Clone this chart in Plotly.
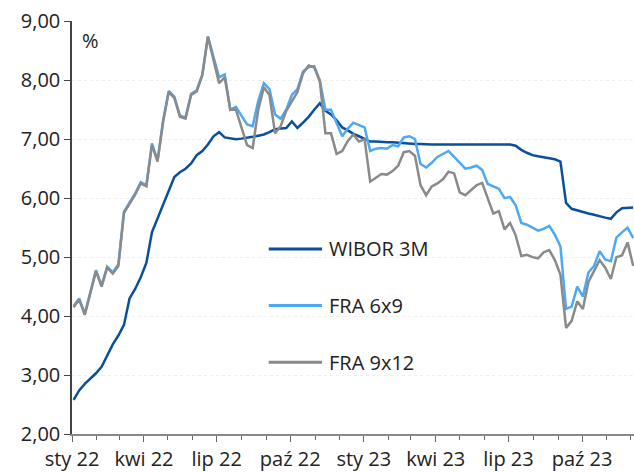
import pandas as pd
import plotly.graph_objects as go

# weekly observations, Mondays from 3 Jan 2022
dates = pd.date_range("2022-01-03", periods=101, freq="7D")

wibor_3m = [
    2.58, 2.74, 2.85, 2.94, 3.03, 3.14, 3.33, 3.52, 3.67, 3.85,
    4.30, 4.46, 4.66, 4.90, 5.42, 5.65, 5.88, 6.14, 6.36, 6.44,
    6.50, 6.59, 6.73, 6.80, 6.91, 7.05, 7.12, 7.03, 7.01, 7.00,
    7.01, 7.02, 7.04, 7.06, 7.08, 7.12, 7.17, 7.18, 7.19, 7.30,
    7.19, 7.28, 7.38, 7.50, 7.61, 7.48, 7.42, 7.32, 7.20, 7.15,
    7.09, 7.05, 7.00, 6.96, 6.96, 6.95, 6.95, 6.95, 6.94, 6.94,
    6.93, 6.92, 6.92, 6.91, 6.91, 6.91, 6.91, 6.91, 6.91, 6.91,
    6.91, 6.91, 6.91, 6.91, 6.91, 6.91, 6.91, 6.91, 6.91, 6.89,
    6.82, 6.77, 6.73, 6.71, 6.69, 6.68, 6.66, 6.62, 5.92, 5.82,
    5.79, 5.76, 5.74, 5.72, 5.69, 5.67, 5.65, 5.76, 5.83, 5.84,
    5.84,
]

fra_6x9 = [
    4.17, 4.30, 4.04, 4.40, 4.78, 4.52, 4.84, 4.74, 4.88, 5.77,
    5.92, 6.08, 6.27, 6.22, 6.93, 6.64, 7.32, 7.82, 7.72, 7.40,
    7.37, 7.77, 7.83, 8.10, 8.74, 8.37, 8.05, 8.10, 7.50, 7.55,
    7.40, 7.25, 7.22, 7.65, 7.95, 7.85, 7.42, 7.35, 7.50, 7.75,
    7.85, 8.15, 8.22, 8.24, 8.00, 7.50, 7.50, 7.28, 7.05, 7.18,
    7.28, 7.24, 7.20, 6.80, 6.84, 6.85, 6.84, 6.90, 6.88, 7.03,
    7.05, 7.00, 6.58, 6.52, 6.60, 6.70, 6.75, 6.80, 6.70, 6.60,
    6.50, 6.52, 6.55, 6.48, 6.24, 6.20, 6.16, 6.00, 6.02, 5.88,
    5.58, 5.55, 5.50, 5.45, 5.48, 5.53, 5.38, 5.18, 4.12, 4.16,
    4.50, 4.33, 4.74, 4.85, 5.10, 4.96, 4.93, 5.33, 5.42, 5.50,
    5.32,
]

fra_9x12 = [
    4.15, 4.28, 4.02, 4.38, 4.76, 4.50, 4.82, 4.72, 4.85, 5.75,
    5.90, 6.06, 6.25, 6.20, 6.90, 6.62, 7.30, 7.80, 7.70, 7.38,
    7.35, 7.75, 7.81, 8.08, 8.74, 8.37, 7.95, 8.05, 7.50, 7.50,
    7.18, 6.90, 6.85, 7.50, 7.88, 7.75, 7.10, 7.22, 7.48, 7.65,
    7.80, 8.12, 8.25, 8.22, 7.98, 7.10, 7.10, 6.75, 6.80, 6.97,
    7.08, 6.96, 7.00, 6.28, 6.35, 6.41, 6.40, 6.46, 6.55, 6.78,
    6.80, 6.72, 6.22, 6.05, 6.20, 6.25, 6.32, 6.45, 6.42, 6.10,
    6.05, 6.13, 6.22, 6.26, 6.00, 5.74, 5.78, 5.47, 5.58, 5.37,
    5.02, 5.04, 5.00, 4.98, 5.08, 5.12, 4.95, 4.70, 3.80, 3.92,
    4.25, 4.12, 4.58, 4.78, 4.95, 4.82, 4.63, 5.00, 5.03, 5.25,
    4.85,
]

series_names = ["WIBOR 3M", "FRA 6x9", "FRA 9x12"]
series_colors = ["#0b4f9c", "#4ea8f2", "#8a8a8a"]

tick_dates = ["2022-01-01", "2022-04-01", "2022-07-01", "2022-10-01",
              "2023-01-01", "2023-04-01", "2023-07-01", "2023-10-01"]
tick_labels = ["sty 22", "kwi 22", "lip 22", "paź 22",
               "sty 23", "kwi 23", "lip 23", "paź 23"]
y_ticks = [2, 3, 4, 5, 6, 7, 8, 9]

font = "Open Sans"
txt = dict(family=font, size=20, color="#222222")

fig = go.Figure()
for name, vals, col in zip(series_names, [wibor_3m, fra_6x9, fra_9x12], series_colors):
    fig.add_trace(go.Scatter(x=dates, y=vals, name=name, mode="lines",
                             line=dict(color=col, width=2.5)))

# legend drawn by hand: long key lines, widely spaced, inside the plot
legend_y = [0.448, 0.311, 0.174]
shapes = []
annotations = [dict(text="%", x=0.014, y=0.99, xref="paper", yref="paper",
                    xanchor="left", yanchor="top", showarrow=False, font=txt)]
for name, col, ly in zip(series_names, series_colors, legend_y):
    shapes.append(dict(type="line", xref="paper", yref="paper",
                       x0=0.350, x1=0.445, y0=ly, y1=ly,
                       line=dict(color=col, width=3)))
    annotations.append(dict(text=name, x=0.454, y=ly, xref="paper", yref="paper",
                            xanchor="left", yanchor="middle", showarrow=False,
                            font=txt))

fig.update_layout(
    width=634, height=472,
    margin=dict(l=72, r=0, t=21, b=36),
    paper_bgcolor="white", plot_bgcolor="white",
    separators=", ",
    font=txt,
    showlegend=False,
    shapes=shapes,
    annotations=annotations,
)

fig.update_xaxes(
    range=["2022-01-01", "2023-12-05"],
    tickmode="array", tickvals=tick_dates, ticktext=tick_labels,
    ticks="outside", ticklen=6, tickcolor="#666666",
    showline=True, linecolor="#888888", linewidth=1.5,
    showgrid=False, zeroline=False,
    minor=dict(dtick="M1", tick0="2022-01-01", ticks="outside", ticklen=4,
               tickcolor="#666666", showgrid=False),
)
fig.update_yaxes(
    range=[2, 9.005], tickmode="array", tickvals=y_ticks, tickformat=".2f",
    ticklabeloverflow="allow",
    ticks="outside", ticklen=6, tickcolor="#444444",
    showline=True, linecolor="#444444", linewidth=1.5,
    showgrid=True, gridcolor="#eeeeee", griddash="dot", gridwidth=1,
    zeroline=False,
)

# drop the default body margin so the 634x472 figure fills the window exactly
fig.write_html("out.html", config={"displayModeBar": False},
               post_script="document.body.style.margin='0';document.body.style.overflow='hidden';")
